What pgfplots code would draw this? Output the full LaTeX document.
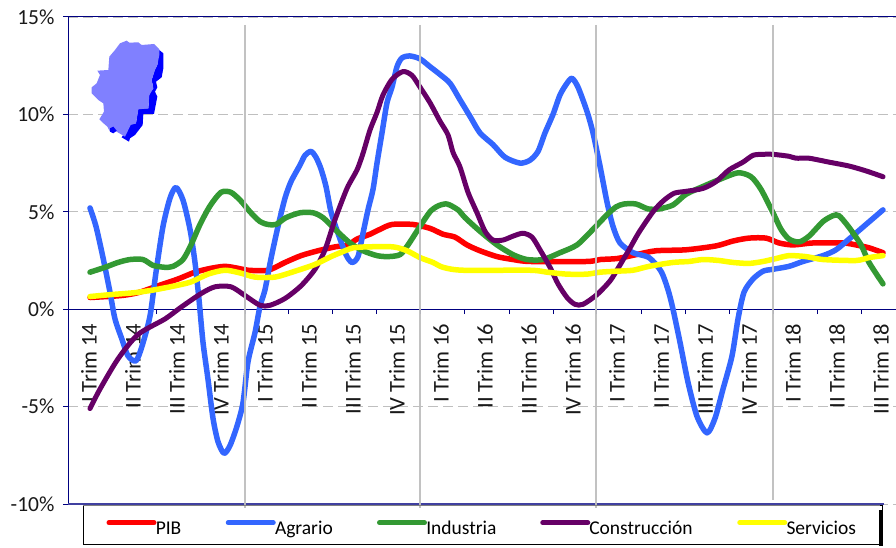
\documentclass[border=0pt]{standalone}
\usepackage{pgfplots}
\pgfplotsset{compat=1.18}
\usepackage{fontspec}
\setmainfont{Carlito}
\definecolor{axblue}{HTML}{000080}
\definecolor{cpib}{HTML}{FF0000}
\definecolor{cagr}{HTML}{3366FF}
\definecolor{cind}{HTML}{339933}
\definecolor{ccon}{HTML}{660066}
\definecolor{cser}{HTML}{FFFF00}
\begin{document}
\begin{tikzpicture}
\begin{axis}[
  at={(68pt,43pt)}, anchor=south west,
  width=828pt, height=487pt, scale only axis,
  set layers=standard,
  clip=false,
  xmin=68, xmax=896, ymin=-10, ymax=15,
  axis x line=middle, axis y line=left,
  axis line style={-, axblue, line width=1pt},
  hide obscured x ticks=false, hide obscured y ticks=false,
  xtick={90,134,178,222,266,310,354,398,442,486,530,574,618,662,706,750,794,838,882},
  xticklabels={I Trim 14,II Trim 14,III Trim 14,IV Trim 14,I Trim 15,II Trim 15,III Trim 15,IV Trim 15,I Trim 16,II Trim 16,III Trim 16,IV Trim 16,I Trim 17,II Trim 17,III Trim 17,IV Trim 17,I Trim 18,II Trim 18,III Trim 18},
  minor xtick={68,112,156,200,245,288,332,376,420,464,509,553,596,641,685,729,773,817,861},
  major x tick style={draw=none},
  minor tick length=5pt,
  minor x tick style={axblue, line width=1pt},
  xtick align=outside, ytick align=outside,
  major tick length=5pt,
  ytick={-10,-5,0,5,10,15},
  yticklabels={-10\%,-5\%,0\%,5\%,10\%,15\%},
  y tick style={axblue, line width=1pt},
  ymajorgrids,
  y grid style={draw=black!25, line width=0.8pt, dash pattern=on 10pt off 5pt},
  xticklabel style={font=\fontsize{22.5}{24}\selectfont, black!90, rotate=90, anchor=east, xshift=-6pt, yshift=1pt},
  yticklabel style={font=\fontsize{21.5}{24}\selectfont, black!90, xshift=-5pt},
  legend columns=5,
  legend cell align=left,
  legend style={at={(axis cs:83,-10.04)}, anchor=north west, draw=black, line width=1pt,
    inner xsep=23pt, inner ysep=4pt, fill=white,
    font=\fontsize{19.5}{22}\selectfont,
    nodes={inner sep=0pt, text height=25pt, text depth=6pt},
    column sep=0pt},
  legend image code/.code={
    \draw[#1, line width=5pt, line cap=round] (-1pt,2pt) -- (44pt,2pt);
    \path (0pt,0pt) (47pt,0pt);
  },
  every axis plot/.append style={line join=round, line cap=round, smooth, tension=0.45, mark=none},
]
\addplot[cpib, line width=5.5pt] coordinates {
(90,0.6)(121,0.7)(138,0.85)(158,1.2)(178,1.55)(195,1.9)(211,2.1)(225,2.2)(238,2.1)(248,2.0)(268,2.0)(285,2.4)(301,2.75)(318,3.0)(335,3.2)(348,3.3)(357,3.6)(370,3.85)(380,4.1)(392,4.35)(413,4.35)(430,4.15)(443,3.85)(455,3.7)(467,3.3)(480,3.0)(497,2.7)(513,2.55)(530,2.45)(587,2.45)(600,2.55)(617,2.6)(636,2.8)(656,3.0)(686,3.05)(716,3.25)(733,3.5)(749,3.65)(766,3.65)(779,3.4)(793,3.3)(813,3.4)(843,3.4)(856,3.3)(869,3.15)(883,2.9)};
\addlegendentry{\makebox[66pt][l]{\hspace{-4pt}PIB}}
\addplot[cagr, line width=5.5pt] coordinates {
(90,5.2)(96,4.25)(103,2.65)(110,0.87)(115,-0.5)(122,-1.55)(128,-2.4)(136,-2.65)(142,-1.9)(150,-0.35)(156,1.9)(163,4.25)(170,5.7)(176,6.25)(183,5.6)(190,4.1)(195,2.4)(199,0.5)(203,-1.7)(208,-3.6)(213,-5.6)(218,-6.8)(224,-7.4)(230,-7.0)(237,-6)(243,-4.8)(248,-2.7)(255,-1.2)(260,0.15)(265,1.0)(271,2.6)(278,4.25)(285,5.7)(291,6.55)(300,7.4)(305,7.9)(311,8.1)(316,7.8)(321,7.2)(326,6.3)(331,5.0)(338,3.9)(346,2.8)(352,2.4)(358,2.7)(363,3.9)(368,5.1)(373,6.15)(377,7.5)(382,9.05)(387,10.6)(392,11.4)(397,12.45)(402,12.9)(410,13.0)(420,12.85)(430,12.45)(440,12.05)(450,11.6)(460,10.75)(470,9.9)(480,9.05)(493,8.45)(505,7.8)(520,7.5)(530,7.65)(538,8.1)(545,9.05)(553,10.0)(560,11.0)(567,11.6)(572,11.85)(578,11.4)(587,10.15)(593,9.05)(600,7.35)(607,5.5)(613,4.25)(620,3.4)(633,2.9)(649,2.65)(661,1.95)(668,1.0)(673,0)(680,-1.7)(688,-3.75)(697,-5.5)(707,-6.35)(715,-5.6)(723,-4.1)(732,-2.4)(738,-0.5)(744,0.87)(753,1.55)(763,1.95)(773,2.05)(789,2.2)(803,2.45)(823,2.75)(836,3.05)(849,3.6)(866,4.35)(883,5.1)};
\addlegendentry{\makebox[98pt][l]{\hspace{-4pt}Agrario}}
\addplot[cind, line width=5.5pt] coordinates {
(90,1.9)(105,2.15)(118,2.4)(130,2.55)(143,2.55)(153,2.25)(165,2.15)(173,2.2)(183,2.55)(191,3.3)(200,4.35)(210,5.3)(221,6.0)(231,6.0)(241,5.55)(250,5.0)(260,4.5)(268,4.35)(276,4.35)(286,4.7)(300,4.95)(313,4.95)(323,4.7)(335,4.1)(350,3.4)(363,3.0)(377,2.75)(388,2.7)(400,2.8)(408,3.3)(420,4.25)(430,5.0)(438,5.3)(447,5.4)(458,5.1)(465,4.7)(480,4.0)(497,3.3)(513,2.8)(527,2.55)(543,2.55)(560,2.9)(577,3.3)(593,4.1)(607,4.85)(616,5.25)(624,5.4)(636,5.4)(648,5.15)(659,5.15)(673,5.35)(686,5.9)(703,6.3)(719,6.65)(738,7.0)(751,6.8)(761,6.15)(773,4.95)(781,4.1)(789,3.6)(799,3.45)(809,3.75)(823,4.5)(833,4.8)(839,4.8)(849,4.2)(861,3.3)(869,2.4)(883,1.3)};
\addlegendentry{\makebox[110pt][l]{\hspace{-4pt}Industria}}
\addplot[ccon, line width=5pt] coordinates {
(90,-5.1)(100,-4.1)(118,-2.55)(138,-1.3)(165,-0.5)(181,0.1)(201,0.8)(215,1.15)(231,1.15)(245,0.7)(260,0.2)(270,0.2)(285,0.55)(301,1.2)(315,2.05)(325,3.05)(335,4.6)(347,6.2)(357,7.15)(363,8.0)(370,9.2)(377,10.1)(383,11.0)(392,11.8)(403,12.2)(412,12.0)(420,11.4)(430,10.6)(440,9.65)(448,8.95)(453,8.05)(460,7.3)(468,6.0)(477,4.95)(485,4.0)(493,3.55)(503,3.55)(513,3.75)(523,3.9)(532,3.7)(540,3.05)(550,2.15)(558,1.3)(567,0.6)(575,0.25)(583,0.25)(597,0.75)(610,1.45)(618,2.1)(629,3.05)(639,3.95)(653,5.0)(663,5.55)(674,5.95)(686,6.05)(703,6.2)(716,6.55)(729,7.15)(743,7.55)(753,7.9)(763,7.95)(773,7.95)(789,7.85)(796,7.75)(809,7.75)(829,7.55)(849,7.35)(866,7.1)(883,6.8)};
\addlegendentry{\makebox[144pt][l]{\hspace{-4pt}Construcción}}
\addplot[cser, line width=5.5pt] coordinates {
(90,0.65)(111,0.75)(135,0.85)(155,1.0)(175,1.2)(191,1.4)(208,1.8)(225,2.0)(241,1.85)(255,1.65)(275,1.65)(295,1.95)(315,2.3)(331,2.7)(345,3.0)(353,3.15)(367,3.2)(393,3.2)(407,3.0)(420,2.65)(433,2.4)(443,2.15)(463,2.0)(530,2.0)(547,1.9)(567,1.8)(587,1.8)(600,1.9)(616,1.95)(633,2.0)(649,2.2)(673,2.4)(689,2.45)(703,2.55)(719,2.5)(733,2.4)(749,2.35)(763,2.45)(776,2.6)(789,2.75)(806,2.7)(823,2.55)(856,2.5)(869,2.65)(883,2.75)};
\addlegendentry{\makebox[69pt][l]{\hspace{-4pt}Servicios}}
\draw[axblue, line width=1pt] (axis cs:68,15)--(axis cs:896,15);
\draw[axblue!75, line width=1.2pt] (axis cs:68,-10)--(axis cs:884,-10);
\begin{pgfonlayer}{axis foreground}
\draw[black!25, line width=2pt, opacity=0.95] (axis cs:245,14.6)--(axis cs:245,-10.2);
\draw[black!25, line width=2pt, opacity=0.95] (axis cs:420,14.6)--(axis cs:420,-10.2);
\draw[black!25, line width=2pt, opacity=0.95] (axis cs:596,14.6)--(axis cs:596,-10.2);
\draw[black!25, line width=2pt, opacity=0.95] (axis cs:773,14.6)--(axis cs:773,-9.8);
\draw[black!50, line width=1.2pt] (axis cs:83,-10.08)--(axis cs:880,-10.08);
\fill[black] (axis cs:879,-10.3)--(axis cs:883,-10.3)--(axis cs:883,-12.15)--(axis cs:879,-12.15)--cycle;
\end{pgfonlayer}
\end{axis}
\begin{scope}[shift={(0pt,547pt)},x=0.33333pt,y=-0.33333pt]
\fill[blue] (478,150)--(490,160)--(490,205)--(485,232)--(468,245)--(472,262)--(465,275)--(472,290)--(462,342)--(430,342)--(428,375)--(405,405)--(390,415)--(387,425)--(365,412)--(392,372)--(408,370)--(415,325)--(445,325)--(448,282)--(460,265)--(455,240)--(465,208)--(472,195)--cycle;
\fill[blue!50] (380,122)--(388,128)--(415,127)--(425,135)--(462,132)--(478,148)--(478,165)--(472,195)--(465,210)--(455,240)--(460,265)--(448,285)--(445,325)--(415,328)--(408,370)--(392,375)--(375,410)--(350,395)--(330,395)--(322,380)--(305,365)--(298,358)--(312,335)--(310,310)--(295,300)--(275,280)--(275,262)--(290,250)--(300,225)--(292,212)--(325,210)--(328,170)--(345,150)--(360,130)--cycle;
\fill[blue] (330,385)--(340,380)--(350,392)--(340,400)--(330,395)--cycle;
\end{scope}
\pgfresetboundingbox
\useasboundingbox (0pt,0pt) rectangle (896pt,547pt);
\end{tikzpicture}
\end{document}
